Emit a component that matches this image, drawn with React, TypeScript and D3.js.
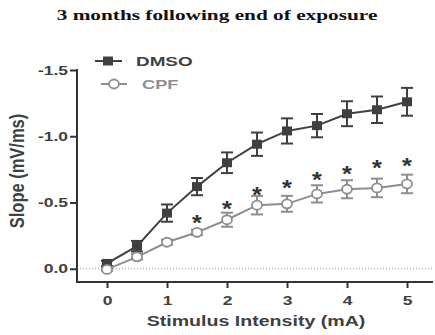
import React, { useEffect, useRef } from "react";
import * as d3 from "d3";

const stimulus = [0, 0.5, 1, 1.5, 2, 2.5, 3, 3.5, 4, 4.5, 5];
const dmsoMean = [-0.04, -0.17, -0.42, -0.62, -0.8, -0.94, -1.04, -1.08, -1.17, -1.2, -1.26];
const dmsoErr = [0.02, 0.04, 0.065, 0.065, 0.078, 0.088, 0.095, 0.088, 0.094, 0.1, 0.105];
const cpfMean = [0.005, -0.09, -0.2, -0.275, -0.37, -0.48, -0.49, -0.565, -0.6, -0.61, -0.64];
const cpfErr = [0.01, 0.02, 0.02, 0.02, 0.053, 0.07, 0.06, 0.065, 0.068, 0.07, 0.07];
const starX = [1.5, 2, 2.5, 3, 3.5, 4, 4.5, 5];
const starY = [-0.385, -0.49, -0.6, -0.65, -0.71, -0.76, -0.8, -0.82];
const yTicks = [0, -0.5, -1.0, -1.5];
const xTicks = [0, 1, 2, 3, 4, 5];

const DARK = "#404040";
const LIGHT = "#8e8e8e";
const SX = 1.4; // the picture is stretched sideways

// moves x/y into a transform so the glyphs can be widened around their anchor
const stretch = (sel: any, k = SX) =>
  sel.each(function (this: any) {
    const t = d3.select(this);
    const x = +(t.attr("x") || 0);
    const y = +(t.attr("y") || 0);
    t.attr("x", 0).attr("y", 0).attr("transform", `translate(${x},${y}) scale(${k},1)`);
  });

const App = () => {
  const svgRef = useRef<SVGSVGElement>(null);

  useEffect(() => {
    const svg = d3.select(svgRef.current);
    svg.selectAll("*").remove();

    const x = d3.scaleLinear().domain([-0.5, 5.5]).range([77, 437]);
    const y = d3.scaleLinear().domain([0.1, -1.5]).range([282, 70]);
    const font = "Liberation Sans, Arial, sans-serif";

    // title
    svg
      .append("text")
      .attr("x", 217)
      .attr("y", 20)
      .attr("text-anchor", "middle")
      .attr("font-family", "Liberation Serif, Times New Roman, serif")
      .attr("font-weight", "bold")
      .attr("font-size", 15)
      .attr("fill", "#111")
      .text("3 months following end of exposure")
      .call(stretch, 1.42);

    // zero line
    svg
      .append("line")
      .attr("x1", x(-0.5))
      .attr("x2", 433)
      .attr("y1", y(0))
      .attr("y2", y(0))
      .attr("stroke", "#999")
      .attr("stroke-width", 1)
      .attr("stroke-dasharray", "1 2");

    // axes
    const fmt = (d: any) => (d === 0 ? "0.0" : d3.format(".1f")(d).replace("\u2212", "-"));
    const yAxis = svg
      .append("g")
      .attr("transform", `translate(${x(-0.5)},0)`)
      .call(d3.axisLeft(y).tickValues(yTicks).tickSize(7).tickPadding(2).tickFormat(fmt));
    yAxis.select(".domain").attr("stroke", "#333").attr("stroke-width", 2).attr("d", `M0,${y(-1.5) - 1}V282`);
    yAxis.selectAll(".tick line").attr("stroke", "#333").attr("stroke-width", 2);
    yAxis
      .selectAll(".tick text")
      .style("font-family", font)
      .style("font-weight", "bold")
      .style("font-size", "12.5px")
      .attr("fill", DARK)
      .call(stretch);

    const xAxis = svg
      .append("g")
      .attr("transform", `translate(0,282)`)
      .call(d3.axisBottom(x).tickValues(xTicks).tickSize(6).tickPadding(8).tickFormat(d3.format("d")));
    xAxis.select(".domain").attr("stroke", "#333").attr("stroke-width", 2).attr("d", `M${x(-0.5) - 1},0H433`);
    xAxis.selectAll(".tick line").attr("stroke", "#333").attr("stroke-width", 2);
    xAxis
      .selectAll(".tick text")
      .style("font-family", font)
      .style("font-weight", "bold")
      .style("font-size", "12.5px")
      .attr("fill", DARK)
      .call(stretch);

    // axis labels
    svg
      .append("text")
      .attr("x", 256)
      .attr("y", 326)
      .attr("text-anchor", "middle")
      .style("font-family", font)
      .style("font-weight", "bold")
      .style("font-size", "14px")
      .attr("fill", DARK)
      .text("Stimulus Intensity (mA)")
      .call(stretch);

    svg
      .append("text")
      .attr("transform", `translate(24,171) rotate(-90) scale(1,1.25)`)
      .attr("text-anchor", "middle")
      .style("font-family", font)
      .style("font-weight", "bold")
      .style("font-size", "16.5px")
      .attr("fill", DARK)
      .text("Slope (mV/ms)");

    const series = [
      { mean: dmsoMean, err: dmsoErr, color: DARK, marker: "square" },
      { mean: cpfMean, err: cpfErr, color: LIGHT, marker: "circle" },
    ];

    series.forEach((s) => {
      const pts = stimulus.map((v, i) => ({ x: v, y: s.mean[i], e: s.err[i] }));
      const g = svg.append("g");
      g.append("path")
        .datum(pts)
        .attr("fill", "none")
        .attr("stroke", s.color)
        .attr("stroke-width", 2)
        .attr(
          "d",
          d3
            .line<any>()
            .x((d) => x(d.x))
            .y((d) => y(d.y))
        );
      // error bars
      const eb = g.selectAll("g.eb").data(pts).join("g");
      eb.append("line")
        .attr("x1", (d) => x(d.x))
        .attr("x2", (d) => x(d.x))
        .attr("y1", (d) => y(d.y - d.e))
        .attr("y2", (d) => y(d.y + d.e))
        .attr("stroke", s.color)
        .attr("stroke-width", 2);
      [-1, 1].forEach((sg) => {
        eb.append("line")
          .attr("x1", (d) => x(d.x) - 6)
          .attr("x2", (d) => x(d.x) + 6)
          .attr("y1", (d) => y(d.y + sg * d.e))
          .attr("y2", (d) => y(d.y + sg * d.e))
          .attr("stroke", s.color)
          .attr("stroke-width", 2);
      });
      if (s.marker === "square") {
        g.selectAll("rect.m")
          .data(pts)
          .join("rect")
          .attr("x", (d) => x(d.x) - 5)
          .attr("y", (d) => y(d.y) - 4.5)
          .attr("width", 10)
          .attr("height", 9)
          .attr("fill", s.color);
      } else {
        g.selectAll("ellipse.m")
          .data(pts)
          .join("ellipse")
          .attr("cx", (d) => x(d.x))
          .attr("cy", (d) => y(d.y))
          .attr("rx", 5)
          .attr("ry", 4.5)
          .attr("fill", "white")
          .attr("stroke", s.color)
          .attr("stroke-width", 1.8);
      }
    });

    // significance stars
    svg
      .append("g")
      .selectAll("text")
      .data(starX.map((v, i) => ({ x: v, y: starY[i] })))
      .join("text")
      .attr("x", (d) => x(d.x))
      .attr("y", (d) => y(d.y) + 12.5)
      .attr("text-anchor", "middle")
      .style("font-family", font)
      .style("font-weight", "bold")
      .style("font-size", "22px")
      .attr("fill", "#333")
      .text("*")
      .call(stretch, 1.15);

    // legend
    const leg = svg.append("g");
    leg.append("line").attr("x1", 95).attr("x2", 122).attr("y1", 61).attr("y2", 61).attr("stroke", DARK).attr("stroke-width", 2);
    leg.append("rect").attr("x", 103).attr("y", 56.5).attr("width", 10).attr("height", 9).attr("fill", DARK);
    leg
      .append("text")
      .attr("x", 136)
      .attr("y", 66)
      .style("font-family", font)
      .style("font-weight", "bold")
      .style("font-size", "13.5px")
      .attr("fill", DARK)
      .text("DMSO")
      .call(stretch);
    leg.append("line").attr("x1", 101).attr("x2", 127).attr("y1", 84).attr("y2", 84).attr("stroke", LIGHT).attr("stroke-width", 2);
    leg
      .append("ellipse")
      .attr("cx", 114)
      .attr("cy", 84)
      .attr("rx", 5)
      .attr("ry", 4.5)
      .attr("fill", "white")
      .attr("stroke", LIGHT)
      .attr("stroke-width", 1.8);
    leg
      .append("text")
      .attr("x", 142)
      .attr("y", 89)
      .style("font-family", font)
      .style("font-weight", "bold")
      .style("font-size", "13px")
      .attr("fill", LIGHT)
      .text("CPF")
      .call(stretch);
  }, []);

  return (
    <div style={{ position: "fixed", left: 0, top: 0 }}>
      <svg ref={svgRef} width={435} height={335} style={{ display: "block", background: "white" }}></svg>
    </div>
  );
};

export default App;
